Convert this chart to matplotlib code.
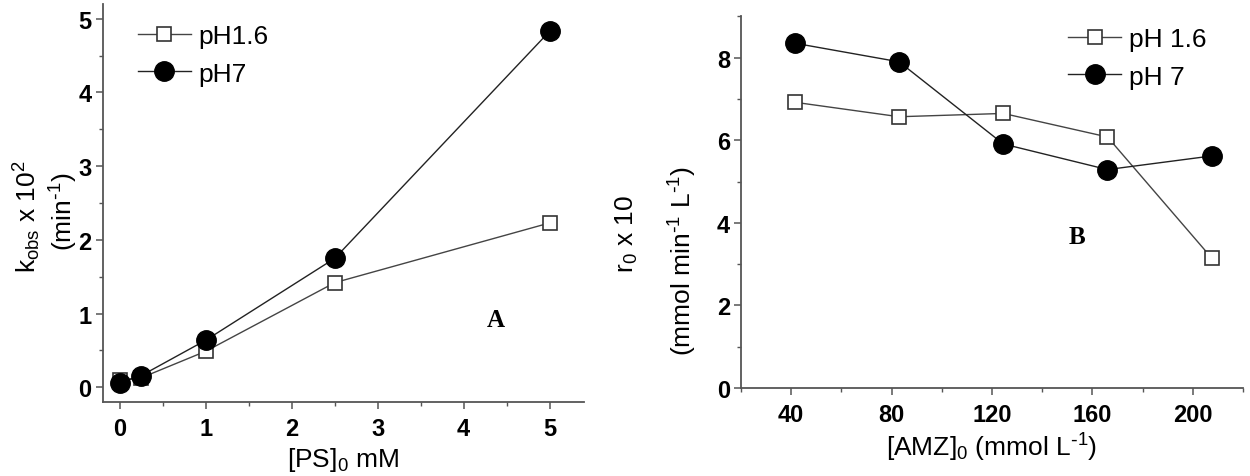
import numpy as np
import matplotlib.pyplot as plt
from matplotlib.ticker import MultipleLocator

plt.rcParams['font.family'] = ['Liberation Sans', 'DejaVu Sans']
plt.rcParams['mathtext.default'] = 'regular'

# panel A data
ps_conc = [0, 0.25, 1, 2.5, 5]
kobs_ph16 = [0.10, 0.13, 0.49, 1.42, 2.23]
kobs_ph7 = [0.06, 0.16, 0.64, 1.75, 4.83]

# panel B data
amz_conc = [41.5, 83, 124.5, 166, 207.5]
r0_ph16 = [6.92, 6.57, 6.65, 6.08, 3.15]
r0_ph7 = [8.35, 7.90, 5.91, 5.29, 5.62]

fig = plt.figure(figsize=(12.5, 4.77), dpi=100)
axA = fig.add_axes([0.0822, 0.155, 0.385, 0.8345])
axB = fig.add_axes([0.5928, 0.1845, 0.4016, 0.779])

sq = dict(marker='s', ms=10, mfc='white', mec='#333333', mew=1.2,
          color='#444444', lw=1.0)
ci = dict(marker='o', ms=14, mfc='black', mec='black',
          color='#222222', lw=1.0)

tick_font = ['Liberation Sans Narrow', 'Liberation Sans', 'DejaVu Sans']


def style(ax):
    for side in ['top', 'right']:
        ax.spines[side].set_visible(False)
    for side in ['left', 'bottom']:
        ax.spines[side].set_color('#555555')
        ax.spines[side].set_linewidth(1.3)
    ax.tick_params(which='major', direction='out', length=5, width=1.1,
                   color='#555555', labelsize=17)
    ax.tick_params(which='minor', direction='out', length=3, width=1.0,
                   color='#555555')
    ax.tick_params(axis='x', pad=6)
    ax.tick_params(axis='y', pad=3)
    for lab in ax.get_xticklabels() + ax.get_yticklabels():
        lab.set_fontweight('bold')
        lab.set_family(tick_font)


# ---- panel A
axA.plot(ps_conc, kobs_ph16, label='pH1.6', **sq)
axA.plot(ps_conc, kobs_ph7, label='pH7', **ci)
axA.set_xlim(-0.2, 5.4)
axA.set_ylim(-0.2, 5.2)
axA.xaxis.set_major_locator(MultipleLocator(1))
axA.xaxis.set_minor_locator(MultipleLocator(0.5))
axA.yaxis.set_major_locator(MultipleLocator(1))
axA.yaxis.set_minor_locator(MultipleLocator(0.5))
style(axA)
axA.set_xlabel('[PS]$_0$ mM', fontsize=19, labelpad=3)
axA.text(4.37, 0.92, 'A', fontsize=18, fontweight='bold',
         family='Liberation Serif', ha='center', va='center')
axA.legend(loc='upper left', bbox_to_anchor=(0.035, 0.995), frameon=False,
           fontsize=19, handlelength=2.0, handletextpad=0.3,
           labelspacing=0.5, borderaxespad=0.3)
fig.text(0.022, 0.545, r'k$_{obs}$ x 10$^2$', rotation=90, fontsize=19,
         ha='center', va='center')
fig.text(0.051, 0.555, r'(min$^{\text{-}1}$)', rotation=90, fontsize=19,
         ha='center', va='center')

# ---- panel B
axB.plot(amz_conc, r0_ph16, label='pH 1.6', **sq)
axB.plot(amz_conc, r0_ph7, label='pH 7', **ci)
axB.set_xlim(20, 220)
axB.set_ylim(0, 9)
axB.xaxis.set_major_locator(MultipleLocator(40))
axB.xaxis.set_minor_locator(MultipleLocator(20))
axB.yaxis.set_major_locator(MultipleLocator(2))
axB.yaxis.set_minor_locator(MultipleLocator(1))
axB.set_xticks([40, 80, 120, 160, 200])
style(axB)
axB.set_xlabel(r'[AMZ]$_0$ (mmol L$^{\text{-}1}$)', fontsize=19, labelpad=3)
axB.text(154, 3.66, 'B', fontsize=18, fontweight='bold',
         family='Liberation Serif', ha='center', va='center')
axB.legend(loc='upper left', bbox_to_anchor=(0.615, 1.02), frameon=False,
           fontsize=19, handlelength=2.0, handletextpad=0.3,
           labelspacing=0.5, borderaxespad=0.3)
fig.text(0.5016, 0.51, r'r$_0$ x 10', rotation=90, fontsize=19,
         ha='center', va='center')
fig.text(0.5464, 0.453, r'(mmol min$^{\text{-}1}$ L$^{\text{-}1}$)',
         rotation=90, fontsize=19, ha='center', va='center')

fig.savefig('out.png', dpi=100)
